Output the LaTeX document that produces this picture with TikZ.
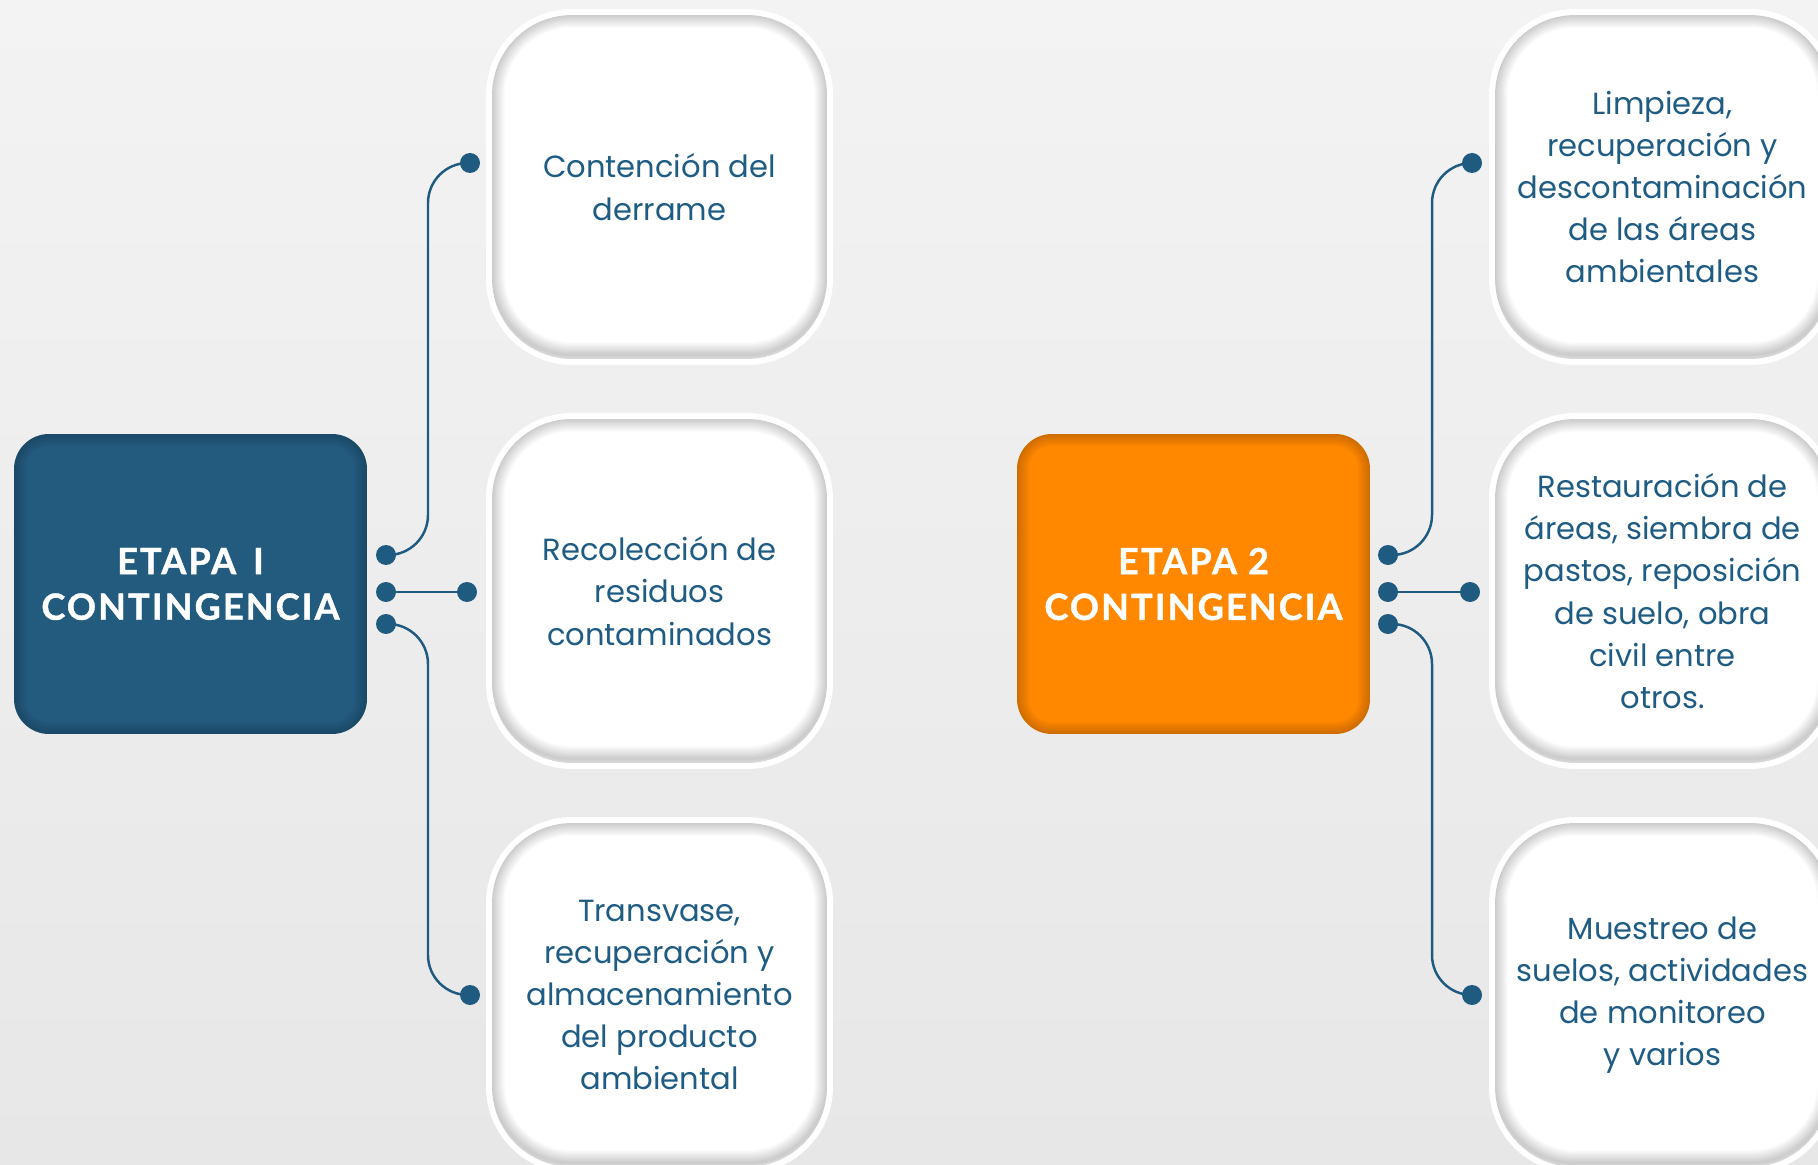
\documentclass[tikz,border=0pt]{standalone}
\usepackage{fontspec}
\setmainfont{Poppins}
\newfontfamily\titlefont[LetterSpace=6, BoldFeatures={FakeBold=1.2}]{Lato}
\definecolor{etapablue}{HTML}{235B7E}
\definecolor{etapaorange}{HTML}{FF8800}
\definecolor{linkblue}{HTML}{1F5A80}
\definecolor{cardtext}{HTML}{1F5C84}
\definecolor{bgtop}{HTML}{F3F3F3}
\definecolor{bgbottom}{HTML}{E7E7E7}
\begin{document}
\begin{tikzpicture}[x=0.02cm,y=-0.02cm,
  stage/.style={rectangle, rounded corners=0.7cm, fill=#1, minimum width=7.06cm, minimum height=6cm, inner sep=0pt,
    text=white, align=center, font=\titlefont\bfseries\fontsize{20.5}{26}\selectfont,
    path picture={
      \foreach \k in {1,...,8}
        \draw[black, opacity=0.025, line width=\k*0.06cm, rounded corners=0.7cm] (path picture bounding box.south west) rectangle (path picture bounding box.north east);}},
  card/.style={rectangle, rounded corners=1.6cm, fill=white, minimum width=6.7cm, minimum height=6.88cm, inner sep=0pt,
    text=cardtext, align=center, font=\fontsize{17.4}{24}\selectfont,
    preaction={draw=white, line width=0.24cm},
    path picture={
      \foreach \k in {1,...,10}
        \draw[black, opacity=0.018, line width=\k*0.05cm, rounded corners=1.6cm] ([yshift=0.08cm]path picture bounding box.south west) rectangle (path picture bounding box.north east);}},
  dot/.style={circle, fill=linkblue, inner sep=0pt, minimum size=0.4cm},
  link/.style={draw=linkblue, line width=1.4pt, rounded corners=0.8cm}]
  \path[use as bounding box] (0,0) rectangle (1818,1165);
  \clip (0,0) rectangle (1818,1165);
  \shade[top color=bgtop, bottom color=bgbottom] (0,0) rectangle (1818,1165);
  % etapa 1
  \node[stage=etapablue] (etapaA) at (190.5,584) {ETAPA\, I\\CONTINGENCIA};
  \node[card] (accA1) at (659.5,187) {Contención del\\derrame};
  \node[card] (accA2) at (659.5,591) {Recolección de\\residuos\\contaminados};
  \node[card] (accA3) at (659.5,995) {Transvase,\\recuperación y\\almacenamiento\\del producto\\ambiental};
  \node[dot] (outA1) at (386,555) {};
  \node[dot] (outA2) at (386,592) {};
  \node[dot] (outA3) at (386,624) {};
  \node[dot] (inA1) at (470,163) {};
  \node[dot] (inA2) at (467,592) {};
  \node[dot] (inA3) at (470,995) {};
  \draw[link] (outA1.center) -- ++(42,0) |- (inA1.center);
  \draw[link] (outA2.center) -- (inA2.center);
  \draw[link] (outA3.center) -- ++(42,0) |- (inA3.center);
  % etapa 2
  \node[stage=etapaorange] (etapaB) at (1193.5,584) {ETAPA 2\\CONTINGENCIA};
  \node[card] (accB1) at (1662.5,187) {Limpieza,\\recuperación y\\descontaminación\\de las áreas\\ambientales};
  \node[card] (accB2) at (1662.5,591) {Restauración de\\áreas, siembra de\\pastos, reposición\\de suelo, obra\\civil entre\\otros.};
  \node[card] (accB3) at (1662.5,995) {Muestreo de\\suelos, actividades\\de monitoreo\\y varios};
  \node[dot] (outB1) at (1388,555) {};
  \node[dot] (outB2) at (1388,592) {};
  \node[dot] (outB3) at (1388,624) {};
  \node[dot] (inB1) at (1472,163) {};
  \node[dot] (inB2) at (1470,592) {};
  \node[dot] (inB3) at (1472,995) {};
  \draw[link] (outB1.center) -- ++(44,0) |- (inB1.center);
  \draw[link] (outB2.center) -- (inB2.center);
  \draw[link] (outB3.center) -- ++(44,0) |- (inB3.center);
\end{tikzpicture}
\end{document}
